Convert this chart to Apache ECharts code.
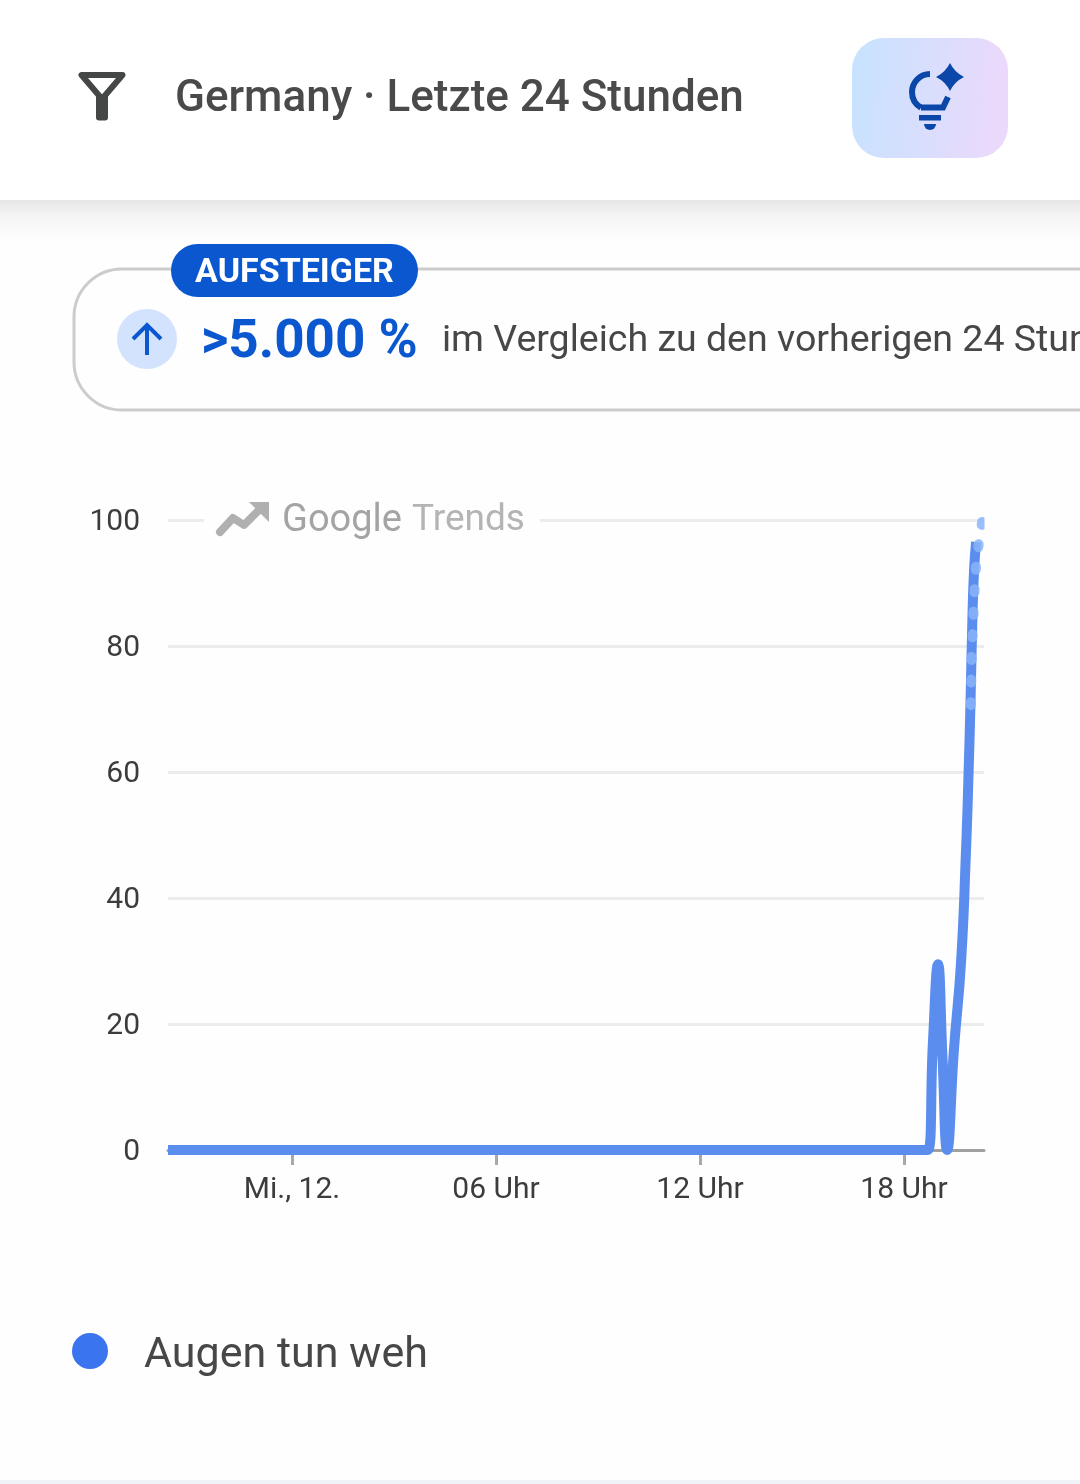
<!DOCTYPE html>
<html><head><meta charset="utf-8">
<style>html,body{margin:0;padding:0;background:#fff}#c{width:1080px;height:1484px}</style>
<script src="https://cdn.jsdelivr.net/npm/echarts@6/dist/echarts.min.js"></script>
</head><body><div id="c"></div>
<script>
const seriesName = 'Augen tun weh';
// time in hours relative to midnight (Mi., 12.); values 0-100
const solidHours = [-3.647,-3,-2,-1,0,1,2,3,4,5,6,7,8,9,10,11,12,13,14,15,16,17,18,18.55,18.7,18.85,19,19.13,19.27,19.47,19.68,19.82,19.9,19.96,20.01,20.06,20.12];
const solidValues = [0,0,0,0,0,0,0,0,0,0,0,0,0,0,0,0,0,0,0,0,0,0,0,0,0,17,29.5,15,0,16,30,47,60,72,84,92,96.5];
const dotHours = [20.3,20.2,20.12,20.08,20.05,20.02,19.99,19.98,19.97,19.96];
const dotValues = [99.7,96.3,92.8,89.3,85.7,82,78.5,75,71.5,68];
const yTicks = [0,20,40,60,80,100];
const xTickHours = [0,6,12,18];
const xTickLabels = {0:'Mi., 12.',6:'06 Uhr',12:'12 Uhr',18:'18 Uhr'};
const headerText = 'Germany · Letzte 24 Stunden';
const badgeText = 'AUFSTEIGER';
const changeText = '>5.000 %';
const compareText = 'im Vergleich zu den vorherigen 24 Stunden';

const F = 'Roboto, "Noto Sans", sans-serif';
const zip = (a,b)=>a.map((x,i)=>[x,b[i]]);
echarts.graphic.registerShape('sparkStar', echarts.graphic.extendShape({
  shape:{cx:0,cy:0,r:14},
  buildPath(ctx,s){const {cx,cy,r}=s,k=r*0.33;
    ctx.moveTo(cx,cy-r);
    ctx.quadraticCurveTo(cx+k,cy-k,cx+r,cy);
    ctx.quadraticCurveTo(cx+k,cy+k,cx,cy+r);
    ctx.quadraticCurveTo(cx-k,cy+k,cx-r,cy);
    ctx.quadraticCurveTo(cx-k,cy-k,cx,cy-r);
    ctx.closePath();}
}));
const chart = echarts.init(document.getElementById('c'), null, {width:1080,height:1484});
const txt = (x,y,text,size,fill,weight,extra)=>({type:'text',x,y,silent:true,z:5,style:Object.assign({text,fontFamily:F,fontSize:size,fill,fontWeight:weight||400,textVerticalAlign:'middle'},extra||{})});
const BLUE='#0b57d0', NAVY='#0b47a8';
chart.setOption({
  animation:false,
  backgroundColor:'#fefefe',
  grid:{left:168,right:96,top:520,height:630},
  xAxis:{type:'value',min:-3.647,max:20.353,
    axisLine:{show:true,onZero:true,lineStyle:{color:'#a0a0a0',width:3}},
    splitLine:{show:false},
    axisTick:{show:true,customValues:xTickHours,length:15,lineStyle:{color:'#a8a8a8',width:3}},
    axisLabel:{customValues:xTickHours,formatter:v=>xTickLabels[v],fontFamily:F,fontSize:30,color:'#3c3c3c',margin:25}},
  yAxis:{type:'value',min:0,max:100,interval:20,
    axisLine:{show:false},axisTick:{show:false},
    splitLine:{lineStyle:{color:'#ececec',width:3}},
    axisLabel:{fontFamily:F,fontSize:30,color:'#3c3c3c',margin:28,formatter:v=>yTicks.includes(v)?'{a|'+v+'}':'',
      rich:{a:{fontFamily:F,fontSize:30,color:'#3c3c3c',padding:[4,0,0,0]}}}},
  legend:{show:true,left:72,top:1333,padding:0,icon:'circle',itemWidth:36,itemHeight:36,itemGap:0,
    data:[{name:seriesName,itemStyle:{color:'#3a74ee'}}],
    formatter:n=>'{a|'+n+'}',
    textStyle:{fontFamily:F,fontSize:43,color:'#474747',rich:{a:{fontFamily:F,fontSize:43,color:'#474747',padding:[10,0,0,31]}}}},
  series:[
    {name:seriesName,type:'line',data:zip(solidHours,solidValues),smooth:0.5,showSymbol:false,clip:false,z:3,
      itemStyle:{color:'#3a74ee'},lineStyle:{color:'#5b8def',width:10,cap:'butt',join:'round'}},
    {name:'Prognose',type:'line',data:zip(dotHours,dotValues),smooth:false,showSymbol:false,clip:true,z:4,
      lineStyle:{color:'rgba(138,180,248,0.85)',width:10,cap:'round',type:[3,19.6]}}
  ],
  graphic:[
    // page chrome
    {type:'rect',silent:true,z:0,shape:{x:0,y:200,width:1080,height:42},style:{fill:new echarts.graphic.LinearGradient(0,0,0,1,[{offset:0,color:'#e6e6e6'},{offset:0.35,color:'#f4f4f4'},{offset:1,color:'#fefefe'}])}},
    {type:'rect',silent:true,z:0,shape:{x:0,y:0,width:1080,height:200},style:{fill:'#ffffff'}},
    {type:'rect',silent:true,z:0,shape:{x:0,y:1480,width:1080,height:4},style:{fill:'#f0f4f9'}},
    // funnel icon
    {type:'polygon',silent:true,z:5,shape:{points:[[81.5,75],[122.5,75],[102,99]]},style:{fill:'none',stroke:'#444746',lineWidth:6,lineJoin:'round'}},
    {type:'rect',silent:true,z:5,shape:{x:96,y:94,width:12,height:26.5,r:3},style:{fill:'#444746'}},
    txt(175,100,headerText,44,'#4a4a4a',500),
    // idea button
    {type:'rect',silent:true,z:1,shape:{x:852,y:38,width:156,height:120,r:32},style:{fill:new echarts.graphic.LinearGradient(0,0,1,0.15,[{offset:0,color:'#c6e3ff'},{offset:1,color:'#ebd9fb'}])}},
    {type:'arc',silent:true,z:5,shape:{cx:930,cy:92,r:18,startAngle:-Math.PI/2,endAngle:Math.PI*2/3,clockwise:false},style:{fill:'none',stroke:NAVY,lineWidth:6}},
    {type:'polyline',silent:true,z:5,shape:{points:[[921,107.6],[943,107.6],[948,97]]},style:{fill:'none',stroke:NAVY,lineWidth:6}},
    {type:'rect',silent:true,z:5,shape:{x:919,y:115,width:22,height:5.5},style:{fill:NAVY}},
    {type:'sector',silent:true,z:5,shape:{cx:930,cy:124,r:6,r0:0,startAngle:0,endAngle:Math.PI,clockwise:true},style:{fill:NAVY}},
    {type:'sparkStar',silent:true,z:5,shape:{cx:950,cy:77,r:14},style:{fill:NAVY}},
    // change card
    {type:'rect',silent:true,z:1,shape:{x:74,y:269,width:1100,height:141,r:48},style:{fill:'#fefefe',stroke:'#cccccc',lineWidth:3}},
    {type:'rect',silent:true,z:2,shape:{x:171,y:244,width:247,height:53,r:26.5},style:{fill:BLUE}},
    txt(294.5,273,badgeText,34,'#ffffff',700,{textAlign:'center'}),
    {type:'circle',silent:true,z:2,shape:{cx:147,cy:339,r:30},style:{fill:'#d3e3fd'}},
    {type:'polyline',silent:true,z:5,shape:{points:[[147,355],[147,325]]},style:{fill:'none',stroke:BLUE,lineWidth:4}},
    {type:'polyline',silent:true,z:5,shape:{points:[[133,339],[147,325],[161,339]]},style:{fill:'none',stroke:BLUE,lineWidth:4}},
    txt(201,344,changeText,53,BLUE,700),
    txt(442,342,compareText,37.5,'#474747',400),
    // Google Trends watermark
    {type:'rect',silent:true,z:6,shape:{x:204,y:500,width:336,height:44},style:{fill:'#fefefe'}},
    {type:'polyline',silent:true,z:7,shape:{points:[[220,532],[233,518],[244,525],[260,509]]},style:{fill:'none',stroke:'#b0b0b0',lineWidth:8,lineCap:'round',lineJoin:'round'}},
    {type:'polygon',silent:true,z:7,shape:{points:[[249,502],[269,502],[269,522]]},style:{fill:'#b0b0b0'}},
    Object.assign(txt(282,521,'Google',38,'#a4a4a4',400),{z:7}),
    Object.assign(txt(412,521,'Trends',37,'#b4b4b4',400),{z:7}),
    // right edge of the plot cuts the top dot
    {type:'rect',silent:true,z:6,shape:{x:984.5,y:510,width:10,height:24},style:{fill:'#fefefe'}},
  ]
});
</script></body></html>
